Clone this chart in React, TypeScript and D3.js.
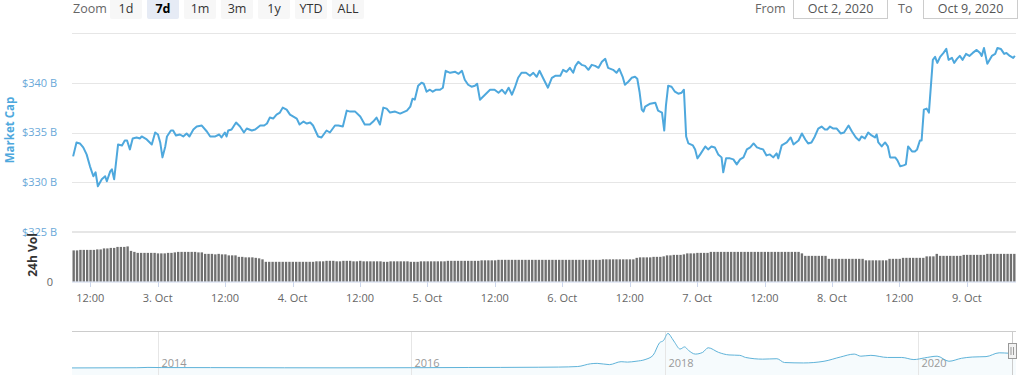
import * as d3 from "d3";

const HOUR = 3600e3;
const START = Date.UTC(2020, 9, 2, 8, 45);
const END = Date.UTC(2020, 9, 9, 8, 45);
const VOL_STEP_MIN = 36;

// [hours since START, market cap in $B]
const capPoints: [number, number][] = [
  [0.2, 332.6], [0.8, 334.0], [1.4, 333.9], [2.0, 333.5], [2.6, 332.8], [3.2, 331.6], [3.8, 330.6], [4.2, 331.0],
  [4.6, 329.6], [5.3, 330.3], [5.9, 330.6], [6.2, 330.1], [6.8, 331.1], [7.1, 331.3], [7.5, 330.3], [8.2, 333.8],
  [8.9, 333.7], [9.4, 334.2], [9.8, 334.2], [10.3, 333.3], [10.8, 334.4], [11.5, 334.5], [12.1, 334.4], [12.4, 334.6],
  [13.3, 334.3], [14.2, 333.8], [14.8, 335.0], [15.3, 334.8], [15.7, 334.0], [16.1, 332.5], [16.6, 333.6], [16.9, 334.6],
  [17.6, 335.2], [18.0, 335.2], [18.5, 334.7], [19.2, 334.8], [19.8, 334.6], [20.4, 334.9], [20.9, 334.6], [21.6, 335.3],
  [22.2, 335.6], [23.1, 335.7], [24.0, 335.1], [24.6, 334.6], [25.5, 334.6], [26.2, 334.8], [26.6, 334.5], [27.2, 335.0],
  [27.5, 334.6], [27.8, 335.2], [28.4, 335.3], [29.2, 336.0], [29.9, 335.6], [30.6, 335.0], [31.1, 335.4], [32.0, 335.2],
  [32.6, 335.3], [33.5, 335.7], [34.2, 335.7], [34.7, 335.9], [35.2, 336.5], [35.8, 336.4], [36.4, 336.8], [37.0, 337.0],
  [37.5, 337.5], [38.2, 337.3], [38.8, 336.8], [39.4, 336.6], [40.0, 336.4], [40.5, 335.8], [41.2, 336.1], [41.8, 335.9],
  [42.4, 336.0], [42.9, 335.7], [43.8, 334.6], [44.4, 334.5], [45.3, 335.2], [45.9, 335.0], [46.8, 335.7], [47.4, 335.7],
  [48.2, 335.6], [48.9, 337.2], [49.5, 337.1], [50.4, 337.1], [51.3, 336.6], [52.1, 335.8], [53.0, 335.8], [53.6, 336.1],
  [54.2, 336.5], [54.8, 335.8], [55.4, 337.5], [56.0, 337.4], [56.6, 337.0], [57.5, 337.1], [58.4, 336.9], [59.6, 337.2],
  [60.2, 337.6], [60.6, 338.4], [61.0, 338.3], [61.6, 339.7], [62.2, 340.0], [62.6, 339.9], [63.1, 339.1], [63.7, 339.3],
  [64.2, 339.1], [64.8, 339.3], [65.5, 339.3], [66.0, 339.5], [66.5, 341.2], [67.3, 341.0], [68.2, 341.1], [68.8, 340.9],
  [69.4, 341.2], [69.9, 340.3], [70.5, 339.8], [71.1, 339.6], [71.7, 339.7], [72.1, 339.9], [72.6, 338.3], [73.5, 338.8],
  [74.4, 339.3], [75.2, 339.3], [75.9, 339.0], [76.5, 339.3], [77.1, 338.9], [77.7, 339.5], [78.3, 338.8], [78.8, 339.5],
  [79.4, 340.5], [80.0, 341.0], [80.8, 341.0], [81.5, 340.7], [82.1, 341.0], [82.7, 340.6], [83.2, 341.2], [83.9, 340.4],
  [84.7, 339.5], [85.4, 340.5], [86.0, 340.7], [86.9, 340.7], [87.4, 341.3], [88.0, 341.1], [88.6, 341.5], [89.2, 341.0],
  [89.6, 341.7], [90.1, 342.1], [90.7, 341.8], [91.3, 341.7], [91.9, 341.3], [92.5, 341.8], [93.1, 341.7], [93.7, 341.5],
  [94.3, 342.1], [94.9, 342.4], [95.4, 341.5], [96.3, 341.3], [96.9, 341.0], [97.4, 341.4], [98.0, 340.6], [98.4, 339.8],
  [99.0, 340.1], [99.6, 340.5], [100.2, 340.6], [100.6, 340.4], [101.0, 339.1], [101.4, 337.3], [101.7, 337.1], [102.0, 337.6],
  [102.9, 337.9], [103.8, 338.0], [104.3, 337.2], [105.0, 337.0], [105.4, 335.2], [105.7, 337.7], [106.1, 339.7], [106.7, 339.6],
  [107.3, 339.1], [107.9, 338.9], [108.5, 339.0], [108.9, 339.3], [109.3, 334.6], [109.7, 333.9], [110.5, 333.7], [110.9, 333.3],
  [111.3, 332.4], [111.8, 332.8], [112.7, 333.6], [113.2, 333.3], [113.8, 333.6], [114.4, 333.5], [115.0, 332.8], [115.6, 332.5],
  [115.9, 331.0], [116.4, 332.4], [117.1, 332.4], [117.7, 332.3], [118.3, 331.8], [118.9, 332.3], [119.5, 332.5], [120.1, 333.3],
  [120.7, 333.5], [121.3, 333.9], [121.9, 333.5], [122.4, 333.4], [123.0, 333.3], [123.6, 332.7], [124.2, 332.8], [124.8, 332.5],
  [125.4, 332.9], [125.7, 332.4], [126.3, 333.7], [127.2, 334.0], [127.9, 334.5], [128.4, 333.8], [129.3, 334.2], [129.9, 334.9],
  [130.5, 334.3], [131.0, 333.9], [131.6, 334.0], [132.2, 334.6], [132.8, 335.4], [133.4, 335.6], [134.0, 335.3], [134.4, 335.3],
  [134.9, 335.6], [135.5, 335.4], [136.1, 335.4], [136.8, 334.9], [137.4, 335.0], [138.2, 335.7], [138.8, 335.1], [139.5, 334.5],
  [140.1, 334.2], [140.5, 334.6], [141.1, 334.4], [141.7, 335.0], [142.3, 334.7], [142.9, 334.5], [143.2, 334.8], [143.5, 334.0],
  [144.1, 333.6], [144.7, 334.0], [145.2, 333.6], [145.6, 332.5], [146.5, 332.5], [146.9, 332.2], [147.4, 331.6], [148.0, 331.7],
  [148.4, 331.8], [148.8, 333.6], [149.5, 333.1], [150.0, 333.1], [150.4, 333.3], [150.9, 334.2], [151.2, 334.2], [151.6, 337.3],
  [152.1, 337.4], [152.5, 337.0], [153.2, 342.3], [153.6, 342.6], [154.0, 342.0], [154.5, 342.6], [155.1, 343.0], [155.6, 343.4],
  [156.0, 342.3], [156.6, 342.5], [157.0, 342.0], [157.5, 342.4], [158.0, 342.7], [158.5, 342.3], [159.1, 342.9], [159.7, 342.7],
  [160.3, 343.0], [161.0, 343.3], [161.6, 343.0], [161.9, 342.7], [162.3, 343.5], [162.9, 341.9], [163.7, 342.7], [164.3, 342.9],
  [164.7, 343.5], [165.3, 343.4], [165.9, 342.9], [166.3, 343.0], [166.9, 342.7], [167.5, 342.5], [167.8, 342.7],
];

// 24h volume, one bar per 36 minutes ($B)
const volValues = [
  63, 63, 64, 64, 64, 64, 64, 65, 65, 67, 67, 68, 68, 70, 70, 70, 71, 62, 60, 58,
  58, 58, 58, 58, 58, 57, 57, 57, 58, 58, 59, 60, 60, 60, 60, 60, 60, 59, 59, 56,
  56, 56, 55, 56, 55, 55, 53, 53, 53, 50, 50, 49, 49, 49, 48, 47, 45, 40, 40, 40,
  40, 40, 40, 40, 40, 40, 40, 40, 40, 40, 40, 40, 41, 41, 41, 42, 42, 42, 41, 41,
  42, 42, 42, 41, 41, 42, 41, 41, 41, 41, 41, 41, 40, 40, 41, 41, 41, 41, 41, 41,
  40, 40, 40, 41, 41, 41, 41, 41, 41, 41, 41, 42, 42, 42, 42, 42, 42, 42, 42, 42,
  42, 43, 43, 43, 43, 43, 44, 44, 44, 44, 44, 44, 44, 44, 44, 44, 44, 44, 44, 44,
  44, 44, 44, 44, 44, 44, 44, 44, 44, 44, 44, 44, 44, 44, 44, 44, 44, 45, 45, 45,
  45, 45, 45, 45, 45, 45, 45, 48, 49, 49, 49, 49, 50, 50, 50, 51, 53, 53, 54, 54,
  54, 55, 57, 57, 57, 58, 58, 58, 58, 60, 60, 60, 60, 60, 60, 60, 60, 60, 60, 60,
  60, 60, 60, 60, 60, 60, 60, 60, 60, 60, 60, 60, 60, 60, 60, 60, 57, 52, 52, 52,
  52, 52, 52, 52, 46, 46, 46, 46, 46, 46, 46, 46, 46, 46, 46, 43, 43, 43, 43, 43,
  43, 43, 46, 46, 46, 46, 48, 48, 48, 48, 48, 48, 48, 51, 51, 51, 56, 52, 52, 52,
  52, 52, 52, 52, 54, 54, 54, 54, 54, 54, 54, 56, 56, 56, 56, 56, 56, 56, 56, 56,
];

const capTicks = [325, 330, 335, 340];

// navigator: whole-history total market cap ($B)
const navPoints: [string, number][] = [
  ["2013-04-28", 1.6], ["2013-11-01", 6], ["2013-12-03", 14], ["2014-01-10", 10], ["2014-06-01", 9],
  ["2015-01-01", 5], ["2015-06-01", 4], ["2016-01-01", 7], ["2016-06-15", 12], ["2016-09-15", 14],
  ["2017-01-01", 18], ["2017-03-01", 22], ["2017-04-25", 35], ["2017-06-01", 100], ["2017-06-20", 110],
  ["2017-07-25", 80], ["2017-08-28", 150], ["2017-09-15", 140], ["2017-10-10", 160], ["2017-11-05", 200],
  ["2017-11-28", 300], ["2017-12-17", 600], ["2017-12-28", 650], ["2018-01-10", 820], ["2018-01-22", 700],
  ["2018-01-30", 600], ["2018-02-14", 450], ["2018-02-27", 500], ["2018-03-10", 420], ["2018-03-30", 330],
  ["2018-04-20", 370], ["2018-05-06", 480], ["2018-06-05", 370], ["2018-07-05", 310], ["2018-08-05", 300],
  ["2018-08-22", 250], ["2018-10-10", 210], ["2018-11-20", 220], ["2018-12-12", 130], ["2019-02-05", 120],
  ["2019-04-05", 160], ["2019-05-22", 260], ["2019-07-01", 330], ["2019-07-20", 280], ["2019-08-18", 300],
  ["2019-10-05", 250], ["2019-11-15", 250], ["2019-12-20", 200], ["2020-01-20", 240], ["2020-02-25", 280],
  ["2020-03-30", 160], ["2020-05-05", 230], ["2020-06-05", 260], ["2020-07-15", 270], ["2020-08-22", 360],
  ["2020-09-20", 350], ["2020-10-09", 340],
];
const navYears = [2014, 2016, 2018, 2020];

const zoomButtons = ["1d", "7d", "1m", "3m", "1y", "YTD", "ALL"];
const selectedZoom = "7d";
const fromLabel = "Oct 2, 2020";
const toLabel = "Oct 9, 2020";

const FONT = "'Open Sans', 'DejaVu Sans', sans-serif";
const BLUE = "#4ea8dd";

export default function App() {
  const W = 1025;
  const H = 375;
  const left = 72;
  const right = 1016;

  const x = d3.scaleUtc().domain([START, END]).range([left, right]);
  const y = d3.scaleLinear().domain([325, 345]).range([232, 33]);
  const yv = d3.scaleLinear().domain([0, 100]).range([281.7, 232]);

  const line = d3
    .line<[number, number]>()
    .x((d) => x(START + d[0] * HOUR))
    .y((d) => y(d[1]));

  const ticks = x.ticks(d3.utcHour.every(12)!);
  const fmtTick = (d: Date) =>
    d.getUTCHours() === 0 ? `${d.getUTCDate()}. Oct` : "12:00";

  const step = VOL_STEP_MIN * 60e3;
  const pitch = x(START + step) - x(START);

  const navParse = d3.utcParse("%Y-%m-%d");
  const navData = navPoints.map(([s, v]) => [navParse(s)!, v] as [Date, number]);
  const nx = d3
    .scaleUtc()
    .domain([navData[0][0], new Date(END)])
    .range([left, right]);
  const ny = d3.scaleLinear().domain([0, 830]).range([368, 333]);
  const navLine = d3
    .line<[Date, number]>()
    .x((d) => nx(d[0]))
    .y((d) => ny(d[1]))
    .curve(d3.curveMonotoneX);
  const navArea = d3
    .area<[Date, number]>()
    .x((d) => nx(d[0]))
    .y0(375)
    .y1((d) => ny(d[1]))
    .curve(d3.curveMonotoneX);
  const handleX = nx(new Date(END)) - 4;

  return (
    <svg
      width={W}
      height={H}
      style={{ position: "absolute", left: 0, top: 0, background: "#fff" }}
      fontFamily={FONT}
    >
      {/* range selector */}
      <text x={73} y={13} fontSize={12.5} fill="#666">
        Zoom
      </text>
      {zoomButtons.map((b, i) => {
        const bx = 110 + i * 37;
        const sel = b === selectedZoom;
        return (
          <g key={b}>
            <rect x={bx} y={-1} width={32} height={20} rx={2} fill={sel ? "#e6ebf5" : "#f7f7f7"} />
            <text
              x={bx + 16}
              y={13}
              textAnchor="middle"
              fontSize={12.5}
              fontWeight={sel ? "bold" : "normal"}
              fill={sel ? "#000" : "#333"}
            >
              {b}
            </text>
          </g>
        );
      })}

      <text x={755} y={13} fontSize={12.5} fill="#666">
        From
      </text>
      <rect x={793.5} y={-1.5} width={94} height={20} fill="#fff" stroke="#ccc" />
      <text x={840.5} y={13} textAnchor="middle" fontSize={12.5} fill="#555">
        {fromLabel}
      </text>
      <text x={898} y={13} fontSize={12.5} fill="#666">
        To
      </text>
      <rect x={923.5} y={-1.5} width={94} height={20} fill="#fff" stroke="#ccc" />
      <text x={970.5} y={13} textAnchor="middle" fontSize={12.5} fill="#555">
        {toLabel}
      </text>

      {/* price grid */}
      {[...capTicks, 345].map((t) => (
        <line key={t} x1={left} x2={right} y1={Math.round(y(t)) + 0.5} y2={Math.round(y(t)) + 0.5} stroke="#e6e6e6" />
      ))}
      {capTicks.map((t) => (
        <text key={t} x={57} y={y(t)} dy="0.35em" textAnchor="end" fontSize={11} fill="#6aa8d8">
          {`$${t} B`}
        </text>
      ))}
      <text
        transform={`translate(14,${130}) rotate(-90)`}
        textAnchor="middle"
        fontSize={11.5}
        fill={BLUE}
        fontWeight="bold"
      >
        Market Cap
      </text>

      {/* volume panel */}
      <line x1={left} x2={right} y1={232} y2={232} stroke="#e6e6e6" strokeWidth={2} />
      {volValues.map((v, i) => {
        const cx = x(START + (i + 0.5) * step);
        return (
          <rect
            key={i}
            x={cx - (pitch - 1) / 2}
            y={yv(v)}
            width={pitch - 1}
            height={yv(0) - yv(v)}
            fill="#707070"
          />
        );
      })}
      <text x={50} y={281.7} dy="0.35em" textAnchor="middle" fontSize={11} fill="#666">
        0
      </text>
      <text
        transform={`translate(37,${255}) rotate(-90)`}
        textAnchor="middle"
        fontSize={12}
        fill="#333"
        fontWeight="bold"
      >
        24h Vol
      </text>

      {/* x axis */}
      <line x1={left} x2={right} y1={282} y2={282} stroke="#ccd6eb" />
      {ticks.map((t) => (
        <g key={+t}>
          <line x1={Math.round(x(t)) + 0.5} x2={Math.round(x(t)) + 0.5} y1={282} y2={287} stroke="#ccd6eb" />
          <text x={x(t)} y={302} textAnchor="middle" fontSize={11} fill="#666">
            {fmtTick(t)}
          </text>
        </g>
      ))}

      {/* market cap line */}
      <path d={line(capPoints)!} fill="none" stroke={BLUE} strokeWidth={2} strokeLinejoin="round" />

      {/* navigator */}
      <path d={navArea(navData)!} fill="#4ea8dd" fillOpacity={0.05} />
      {navYears.map((yr) => {
        const gx = Math.round(nx(new Date(Date.UTC(yr, 0, 1)))) + 0.5;
        return (
          <g key={yr}>
            <line x1={gx} x2={gx} y1={331} y2={375} stroke="#e6e6e6" />
            <text x={gx + 3} y={367} fontSize={11} fill="#999">
              {yr}
            </text>
          </g>
        );
      })}
      <line x1={left} x2={right} y1={331.5} y2={331.5} stroke="#cccccc" />
      <path d={navLine(navData)!} fill="none" stroke="#5fb3d9" strokeWidth={1} />
      <line x1={handleX + 0.5} x2={handleX + 0.5} y1={331} y2={375} stroke="#cccccc" />
      <rect x={handleX - 3.5} y={343.5} width={8} height={15} fill="#f2f2f2" stroke="#999" />
      <line x1={handleX - 1} x2={handleX - 1} y1={347} y2={355} stroke="#999" />
      <line x1={handleX + 1.5} x2={handleX + 1.5} y1={347} y2={355} stroke="#999" />
    </svg>
  );
}
